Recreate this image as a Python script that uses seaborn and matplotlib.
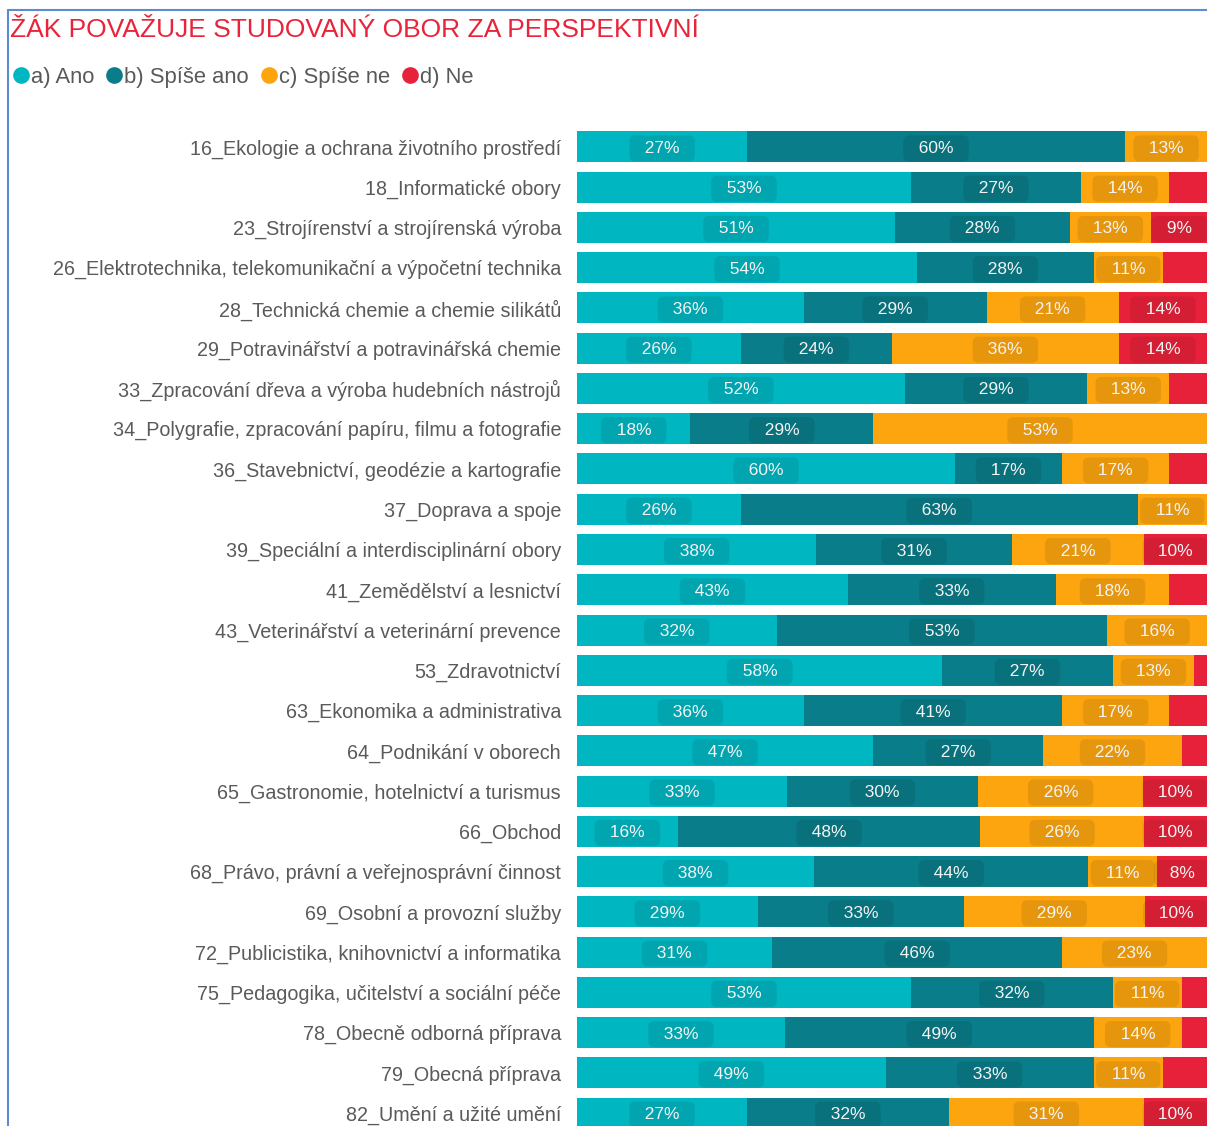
import matplotlib
matplotlib.use("Agg")
import matplotlib.pyplot as plt
from matplotlib.lines import Line2D
import seaborn as sns
import numpy as np
import pandas as pd

categories = [
    "16_Ekologie a ochrana životního prostředí",
    "18_Informatické obory",
    "23_Strojírenství a strojírenská výroba",
    "26_Elektrotechnika, telekomunikační a výpočetní technika",
    "28_Technická chemie a chemie silikátů",
    "29_Potravinářství a potravinářská chemie",
    "33_Zpracování dřeva a výroba hudebních nástrojů",
    "34_Polygrafie, zpracování papíru, filmu a fotografie",
    "36_Stavebnictví, geodézie a kartografie",
    "37_Doprava a spoje",
    "39_Speciální a interdisciplinární obory",
    "41_Zemědělství a lesnictví",
    "43_Veterinářství a veterinární prevence",
    "53_Zdravotnictví",
    "63_Ekonomika a administrativa",
    "64_Podnikání v oborech",
    "65_Gastronomie, hotelnictví a turismus",
    "66_Obchod",
    "68_Právo, právní a veřejnosprávní činnost",
    "69_Osobní a provozní služby",
    "72_Publicistika, knihovnictví a informatika",
    "75_Pedagogika, učitelství a sociální péče",
    "78_Obecně odborná příprava",
    "79_Obecná příprava",
    "82_Umění a užité umění",
]

series_names = ["a) Ano", "b) Spíše ano", "c) Spíše ne", "d) Ne"]

ano       = [27, 53, 51, 54, 36, 26, 52, 18, 60, 26, 38, 43, 32, 58, 36, 47, 33, 16, 38, 29, 31, 53, 33, 49, 27]
spise_ano = [60, 27, 28, 28, 29, 24, 29, 29, 17, 63, 31, 33, 53, 27, 41, 27, 30, 48, 44, 33, 46, 32, 49, 33, 32]
spise_ne  = [13, 14, 13, 11, 21, 36, 13, 53, 17, 11, 21, 18, 16, 13, 17, 22, 26, 26, 11, 29, 23, 11, 14, 11, 31]
ne        = [0,   6,  9,  7, 14, 14,  6,  0,  6,  0, 10,  6,  0,  2,  6,  4, 10, 10,  8, 10,  0,  4,  4,  7, 10]

colors = ["#00B6C1", "#097D89", "#FDA50F", "#E8213A"]

W, H = 1207, 1126
fig = plt.figure(figsize=(W / 100, H / 100), dpi=100)
sns.set_style("white")
plt.rcParams["font.family"] = ["Liberation Sans", "DejaVu Sans"]

ax_left = 577 / W
ax_top = 1 - 126 / H
ax = fig.add_axes([ax_left, 0.0, 1.0 - ax_left, ax_top])

series = np.array([ano, spise_ano, spise_ne, ne], dtype=float)
shares = series / series.sum(axis=0) * 100.0   # each bar spans 100 %
cum = np.cumsum(shares, axis=0)
df = pd.DataFrame({"cat": categories})

# draw cumulative layers, widest first, so each covers the next
for j in range(3, -1, -1):
    sns.barplot(x=cum[j], y=df["cat"], orient="h", color=colors[j],
                width=0.77, ax=ax, saturation=1, linewidth=0, order=categories)

# labels
for i in range(len(categories)):
    left = 0.0
    for j in range(4):
        v = int(series[j][i])
        w = shares[j][i]
        if v >= 8:
            ax.text(left + w / 2, i, f"  {v}%  ", ha="center", va="center_baseline",
                    color="#F4F4F4", fontsize=12.5,
                    bbox=dict(boxstyle="round,pad=0.32,rounding_size=0.35",
                              fc=(0, 0, 0, 0.09), ec="none"))
        left += w

ax.set_xlim(0, 100)
ax.set_ylim(24.32, -0.52)
ax.set_xlabel("")
ax.set_ylabel("")
ax.set_xticks([])
for s in ax.spines.values():
    s.set_visible(False)
ax.tick_params(axis="y", length=0, pad=11.5, labelsize=14.2, labelcolor="#5A5A5A")
for lbl in ax.get_yticklabels():
    lbl.set_fontfamily(["Liberation Sans", "DejaVu Sans"])
    lbl.set_verticalalignment("center_baseline")

# title
fig.text(10 / W, 1 - 30 / H, "ŽÁK POVAŽUJE STUDOVANÝ OBOR ZA PERSPEKTIVNÍ",
         color="#E8233A", fontsize=19, ha="left", va="center")

# legend
handles = [Line2D([0], [0], marker="o", linestyle="none", markersize=12,
                  markerfacecolor=c, markeredgecolor="none") for c in colors]
fig.legend(handles, series_names, loc="center left",
           bbox_to_anchor=(13 / W, 1 - 77 / H), ncol=4, frameon=False,
           fontsize=15.8, labelcolor="#595959", handlelength=0.7,
           handletextpad=0.12, columnspacing=0.55, borderaxespad=0, borderpad=0)

# frame lines (top and left)
fig.add_artist(Line2D([8 / W, 1.0], [1 - 10 / H, 1 - 10 / H], color="#5B8BD0", lw=1.5))
fig.add_artist(Line2D([8 / W, 8 / W], [0, 1 - 10 / H], color="#5B8BD0", lw=1.5))

fig.savefig("out.png", dpi=100, facecolor="white")
